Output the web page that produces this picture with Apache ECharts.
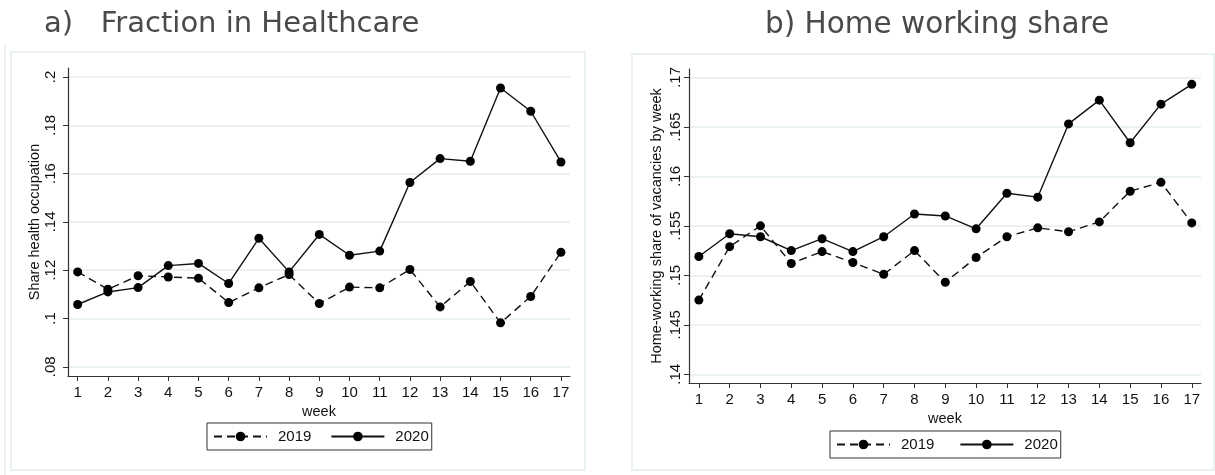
<!DOCTYPE html>
<html>
<head>
<meta charset="utf-8">
<script src="https://cdn.jsdelivr.net/npm/echarts@6/dist/echarts.min.js"></script>
<style>
html,body{margin:0;padding:0;background:#fff;}
#c{width:1215px;height:475px;}
</style>
</head>
<body>
<div id="c"></div>
<script>
const weeks = [1,2,3,4,5,6,7,8,9,10,11,12,13,14,15,16,17];
const health2019 = [0.1193,0.1121,0.1177,0.1172,0.1167,0.1066,0.1127,0.1182,0.1062,0.1130,0.1127,0.1203,0.1048,0.1153,0.0982,0.1091,0.1274];
const health2020 = [0.1058,0.1110,0.1128,0.1219,0.1228,0.1145,0.1332,0.1193,0.1348,0.1262,0.1279,0.1563,0.1662,0.1651,0.1954,0.1858,0.1648];
const home2019 = [0.1475,0.1529,0.1550,0.1512,0.1524,0.1513,0.1501,0.1525,0.1493,0.1518,0.1539,0.1548,0.1544,0.1554,0.1585,0.1594,0.1553];
const home2020 = [0.1519,0.1542,0.1539,0.1525,0.1537,0.1524,0.1539,0.1562,0.1560,0.1547,0.1583,0.1579,0.1653,0.1677,0.1634,0.1673,0.1693];
const healthTicks = [0.08,0.10,0.12,0.14,0.16,0.18,0.20];
const homeTicks = [0.14,0.145,0.15,0.155,0.16,0.165,0.17];
const seriesNames = ['2019','2020'];

const chart = echarts.init(document.getElementById('c'), null, {renderer:'canvas'});
const fmt = v => String(+(+v).toFixed(3)).replace(/^0\./, '.');
const labelFont = "'Liberation Sans', Arial, sans-serif";
const titleFont = "'DejaVu Sans', sans-serif";

function xAxis(gridIndex, nameGap){
  return {
    type:'value', gridIndex, min:0.68, max:17.3,
    name:'week', nameLocation:'middle', nameGap,
    nameTextStyle:{fontFamily:labelFont, fontSize:14.5, color:'#111'},
    axisLine:{show:true, lineStyle:{color:'#333', width:1.2}},
    axisTick:{show:true, length:5, customValues:weeks, lineStyle:{color:'#333'}},
    axisLabel:{customValues:weeks, fontFamily:labelFont, fontSize:15, color:'#111', margin:9},
    splitLine:{show:false}
  };
}
function yAxis(gridIndex, min, max, ticks, name, margin, nameGap){
  return {
    type:'value', gridIndex, min, max,
    name, nameLocation:'middle', nameGap, nameRotate:90,
    nameTextStyle:{fontFamily:labelFont, fontSize:14.5, color:'#111'},
    axisLine:{show:true, lineStyle:{color:'#333', width:1.2}},
    axisTick:{show:true, length:5, customValues:ticks, lineStyle:{color:'#333'}},
    axisLabel:{customValues:ticks, rotate:90, formatter:fmt, fontFamily:labelFont, fontSize:15, color:'#111', margin},
    splitLine:{show:true, lineStyle:{color:'#eaf1f2', width:2}}
  };
}
function line(name, data, x, dashed){
  return {
    name, type:'line', xAxisIndex:x, yAxisIndex:x,
    data: weeks.map((w,i)=>[w, data[i]]),
    symbol:'circle', symbolSize:9,
    itemStyle:{color:'#000'},
    lineStyle:{color:'#111', width:1.4, type: dashed ? [8,5] : 'solid'},
    animation:false
  };
}
function legend(left, top, gap){
  return {
    data:seriesNames, left, top, orient:'horizontal',
    borderColor:'#333', borderWidth:1, padding:[6,3,6,6],
    itemWidth:53, itemHeight:12, itemGap:gap, selectedMode:false,
    textStyle:{fontFamily:labelFont, fontSize:15, color:'#111', padding:[0,0,0,6]}
  };
}

chart.setOption({
  backgroundColor:'#fff',
  animation:false,
  title:[
    {text:'a)   Fraction in Healthcare', left:39, top:5, textStyle:{fontFamily:titleFont, fontSize:29, fontWeight:'normal', color:'#4a4a4a'}},
    {text:'b) Home working share', left:760, top:5, textStyle:{fontFamily:titleFont, fontSize:29.5, fontWeight:'normal', color:'#4a4a4a'}}
  ],
  graphic:[
    {type:'rect', shape:{x:11, y:52, width:574, height:418}, style:{fill:'none', stroke:'#eaf1f3', lineWidth:2}, silent:true, z:-1},
    {type:'rect', shape:{x:632, y:54, width:582, height:416}, style:{fill:'none', stroke:'#eaf1f3', lineWidth:2}, silent:true, z:-1},
    {type:'line', shape:{x1:5, y1:45, x2:5, y2:475}, style:{stroke:'#eef2f4', lineWidth:2}, silent:true, z:-1}
  ],
  grid:[
    {left:68, right:645, top:68, bottom:99},
    {left:689, right:14, top:69, bottom:92}
  ],
  xAxis:[xAxis(0, 18), xAxis(1, 24)],
  yAxis:[
    yAxis(0, 0.0762, 0.2037, healthTicks, 'Share health occupation', 10, 24),
    yAxis(1, 0.13912, 0.17085, homeTicks, 'Home-working share of vacancies by week', 6, 25)
  ],
  legend:[legend(207, 423, 19), legend(830, 431, 25)],
  series:[
    line('2019', health2019, 0, true),
    line('2020', health2020, 0, false),
    line('2019', home2019, 1, true),
    line('2020', home2020, 1, false)
  ]
});
</script>
</body>
</html>
